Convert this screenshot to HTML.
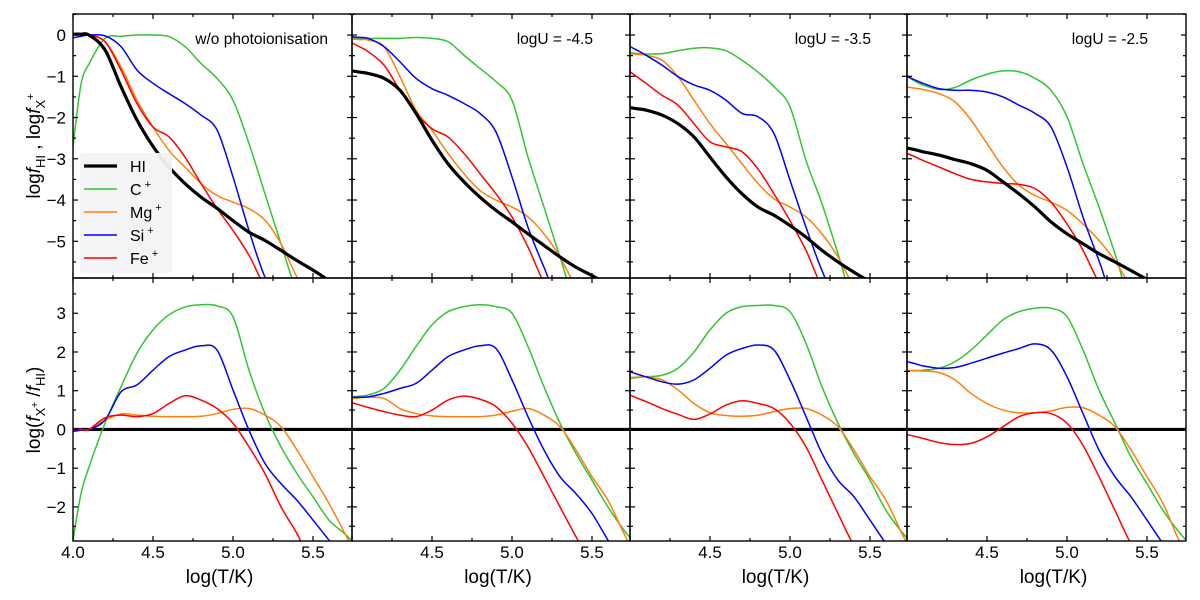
<!DOCTYPE html>
<html><head><meta charset="utf-8"><style>
html,body{margin:0;padding:0;background:#fff;width:1200px;height:600px;overflow:hidden}
svg{display:block;font-family:"Liberation Sans",Arial,sans-serif;overflow:hidden}
</style></head><body>
<svg id="chart" width="1200" height="600" viewBox="0 0 1200 600" xmlns="http://www.w3.org/2000/svg"></svg>
<script>
// ---- data ----
const temps = [4.0,4.05,4.1,4.2,4.3,4.4,4.5,4.6,4.7,4.8,4.9,5.0,5.1,5.2,5.3,5.4,5.5,5.6,5.7,5.8];
const panelTitles = ["w/o photoionisation","logU = -4.5","logU = -3.5","logU = -2.5"];
const speciesNames = ["HI","C","Mg","Si","Fe"];
const xTicks = [4.0,4.5,5.0,5.5];
const xTickLabels = ["4.0","4.5","5.0","5.5"];
const topYTicks = [0,-1,-2,-3,-4,-5];
const botYTicks = [3,2,1,0,-1,-2];

// top row: log f
const topHI = [
 [0.02,0.02,0,-0.36,-1.25,-2.06,-2.7,-3.2,-3.6,-3.93,-4.2,-4.5,-4.78,-4.98,-5.22,-5.47,-5.7,-5.95,-6.2,-6.4],
 [-0.87,-0.9,-0.93,-1.05,-1.34,-1.9,-2.55,-3.12,-3.56,-3.93,-4.25,-4.53,-4.82,-5.1,-5.38,-5.63,-5.83,-6.05,-6.25,-6.45],
 [-1.76,-1.79,-1.82,-1.94,-2.15,-2.47,-2.96,-3.44,-3.85,-4.17,-4.37,-4.62,-4.9,-5.22,-5.5,-5.75,-5.98,-6.2,-6.4,-6.6],
 [-2.74,-2.78,-2.83,-2.91,-3.02,-3.12,-3.28,-3.56,-3.85,-4.17,-4.53,-4.82,-5.06,-5.3,-5.5,-5.71,-5.92,-6.1,-6.3,-6.5]];
const topC = [
 [-2.7,-1.2,-0.7,-0.08,-0.03,0,0,-0.04,-0.28,-0.69,-1.05,-1.58,-2.63,-3.85,-5.06,-6.2,-7.3,-8.4,-9.5,-10.6],
 [-0.08,-0.08,-0.08,-0.08,-0.08,-0.06,-0.08,-0.16,-0.49,-0.81,-1.13,-1.58,-2.96,-4.17,-5.38,-6.6,-7.8,-9,-10,-11],
 [-0.43,-0.45,-0.46,-0.45,-0.38,-0.32,-0.31,-0.38,-0.61,-0.9,-1.25,-1.74,-3.04,-4.09,-5.3,-6.5,-7.7,-9,-10,-11],
 [-1.0,-1.12,-1.21,-1.32,-1.27,-1.09,-0.95,-0.87,-0.89,-1.05,-1.34,-1.98,-3.12,-4.17,-5.3,-6.5,-7.7,-9,-10,-11]];
const topMg = [
 [0.02,0.02,0,-0.16,-0.77,-1.58,-2.23,-2.8,-3.2,-3.6,-3.89,-4.05,-4.21,-4.49,-5.06,-5.87,-6.8,-7.8,-8.8,-9.8],
 [-0.1,-0.11,-0.12,-0.28,-1.01,-1.82,-2.31,-2.87,-3.36,-3.77,-4.0,-4.17,-4.41,-4.82,-5.38,-6.1,-7,-8,-9,-10],
 [-0.45,-0.47,-0.49,-0.61,-1.01,-1.58,-2.15,-2.63,-3.12,-3.6,-3.97,-4.17,-4.41,-4.82,-5.38,-6.1,-7,-8,-9,-10],
 [-1.26,-1.29,-1.32,-1.42,-1.62,-2.06,-2.63,-3.2,-3.64,-3.89,-4.05,-4.25,-4.58,-4.98,-5.47,-6.1,-7,-8,-9,-10]];
const topSi = [
 [-0.07,-0.03,0,-0.02,-0.28,-0.85,-1.17,-1.42,-1.66,-1.94,-2.3,-3.44,-4.74,-5.87,-7,-8,-9,-10,-11,-12],
 [-0.04,-0.06,-0.08,-0.28,-0.65,-1.05,-1.3,-1.46,-1.66,-1.9,-2.35,-3.44,-4.66,-5.63,-6.7,-7.8,-9,-10,-11,-12],
 [-0.28,-0.38,-0.49,-0.73,-1.01,-1.21,-1.34,-1.58,-1.9,-1.98,-2.39,-3.52,-4.66,-5.71,-6.8,-7.9,-9,-10,-11,-12],
 [-1.0,-1.09,-1.17,-1.3,-1.34,-1.34,-1.38,-1.5,-1.7,-1.9,-2.23,-3.2,-4.41,-5.47,-6.6,-7.7,-9,-10,-11,-12]];
const topFe = [
 [0.02,0.02,0,-0.16,-0.85,-1.66,-2.23,-2.47,-2.96,-3.6,-4.2,-4.74,-5.34,-6.1,-7,-8,-9,-10,-11,-12],
 [-0.19,-0.29,-0.4,-0.73,-1.34,-1.9,-2.27,-2.47,-2.87,-3.36,-3.85,-4.41,-5.14,-6.0,-7,-8,-9,-10,-11,-12],
 [-0.89,-1.03,-1.17,-1.46,-1.7,-2.15,-2.59,-2.71,-2.83,-3.25,-3.85,-4.5,-5.22,-6.1,-7,-8,-9,-10,-11,-12],
 [-2.87,-2.95,-3.04,-3.2,-3.36,-3.5,-3.56,-3.6,-3.62,-3.72,-4.05,-4.58,-5.22,-6.0,-7,-8,-9,-10,-11,-12]];

// bottom row: log(fX+/fHI)
const botHI = [
 [0,0,0,0,0,0,0,0,0,0,0,0,0,0,0,0,0,0,0,0],
 [0,0,0,0,0,0,0,0,0,0,0,0,0,0,0,0,0,0,0,0],
 [0,0,0,0,0,0,0,0,0,0,0,0,0,0,0,0,0,0,0,0],
 [0,0,0,0,0,0,0,0,0,0,0,0,0,0,0,0,0,0,0,0]];
const botC = [
 [-2.86,-1.66,-0.97,0.16,1.1,1.97,2.57,2.96,3.16,3.22,3.19,2.91,1.53,0.41,-0.45,-1.14,-1.74,-2.34,-2.7,-3.1],
 [0.84,0.86,0.89,1.06,1.53,2.14,2.7,3.04,3.17,3.22,3.17,3.0,2.14,1.1,0.16,-0.62,-1.31,-2.0,-2.6,-3.1],
 [1.32,1.34,1.36,1.4,1.58,2.0,2.57,3.0,3.17,3.2,3.2,3.04,2.22,1.1,0.16,-0.62,-1.31,-2.09,-2.65,-3.1],
 [1.52,1.52,1.53,1.58,1.75,2.05,2.44,2.83,3.04,3.13,3.13,2.91,2.05,1.02,0.16,-0.71,-1.4,-2.09,-2.65,-3.1]];
const botMg = [
 [0,0,0,0.24,0.4,0.37,0.34,0.33,0.33,0.34,0.41,0.52,0.54,0.37,0.07,-0.53,-1.22,-1.91,-2.69,-3.5],
 [0.8,0.82,0.83,0.8,0.54,0.41,0.35,0.33,0.33,0.33,0.37,0.47,0.54,0.37,0.07,-0.53,-1.22,-1.83,-2.69,-3.5],
 [1.34,1.35,1.36,1.28,1.02,0.67,0.43,0.36,0.34,0.37,0.46,0.54,0.54,0.37,0.07,-0.53,-1.22,-1.83,-2.69,-3.5],
 [1.52,1.52,1.51,1.47,1.28,0.93,0.67,0.5,0.43,0.43,0.48,0.57,0.56,0.37,0.07,-0.53,-1.22,-1.91,-2.86,-3.6]];
const botSi = [
 [-0.05,-0.02,0,0.24,0.97,1.15,1.53,1.88,2.05,2.16,2.05,1.02,-0.02,-0.88,-1.4,-1.83,-2.34,-2.86,-3.4,-4],
 [0.83,0.83,0.84,0.93,1.06,1.19,1.53,1.88,2.05,2.16,2.09,1.28,0.33,-0.53,-1.22,-1.66,-2.17,-2.86,-3.5,-4.1],
 [1.49,1.42,1.36,1.23,1.17,1.28,1.58,1.92,2.09,2.18,2.05,1.28,0.33,-0.62,-1.31,-1.74,-2.34,-2.95,-3.5,-4.1],
 [1.75,1.7,1.64,1.58,1.6,1.71,1.84,1.97,2.09,2.21,2.05,1.36,0.41,-0.53,-1.22,-1.74,-2.34,-2.95,-3.5,-4.1]];
const botFe = [
 [0,0,0,0.3,0.37,0.33,0.41,0.67,0.87,0.76,0.54,0.16,-0.45,-1.14,-2.0,-2.69,-3.5,-4.3,-5,-6],
 [0.69,0.63,0.57,0.46,0.37,0.33,0.5,0.76,0.86,0.78,0.59,0.16,-0.45,-1.22,-2.0,-2.77,-3.5,-4.3,-5,-6],
 [0.89,0.8,0.72,0.54,0.39,0.26,0.4,0.63,0.74,0.67,0.54,0.16,-0.45,-1.31,-2.17,-3.0,-3.8,-4.5,-5.2,-6],
 [-0.13,-0.18,-0.23,-0.34,-0.39,-0.36,-0.19,0.07,0.33,0.43,0.41,0.16,-0.41,-1.22,-2.09,-2.95,-3.8,-4.5,-5.2,-6]];

// ---- layout ----
const NS = "http://www.w3.org/2000/svg";
const svg = document.getElementById("chart");
const panelLeft = [73,352,630,907];
const panelRight = [352,630,907,1186];
const pxPerUnit = 160;
const X0 = 4.0;
const rowTop = {top:{y0:14,y1:278,vmax:0.51,vmin:-5.89}, bot:{y0:278,y1:541,vmax:3.91,vmin:-2.88}};
const colors = {HI:"#000000",C:"#33c433",Mg:"#ff7f0e",Si:"#0000ff",Fe:"#ff0000"};
const widths = {HI:3.2,C:1.5,Mg:1.5,Si:1.5,Fe:1.5};
function el(tag, attrs, parent){const e=document.createElementNS(NS,tag);for(const k in attrs)e.setAttribute(k,attrs[k]);(parent||svg).appendChild(e);return e;}
function xScale(p,t){return Math.min(panelLeft[p]+(t-X0)*pxPerUnit, panelRight[p]+15);}
function yScale(r,v){const R=rowTop[r];const y=R.y0+(R.vmax-v)/(R.vmax-R.vmin)*(R.y1-R.y0);return Math.min(y,R.y1+25);}
function smoothPath(pts){
  let d="M"+pts[0][0].toFixed(2)+","+pts[0][1].toFixed(2);
  for(let i=0;i<pts.length-1;i++){
    const p0=pts[Math.max(0,i-1)],p1=pts[i],p2=pts[i+1],p3=pts[Math.min(pts.length-1,i+2)];
    const c1=[p1[0]+(p2[0]-p0[0])/6,p1[1]+(p2[1]-p0[1])/6];
    const c2=[p2[0]-(p3[0]-p1[0])/6,p2[1]-(p3[1]-p1[1])/6];
    d+=" C"+c1[0].toFixed(2)+","+c1[1].toFixed(2)+" "+c2[0].toFixed(2)+","+c2[1].toFixed(2)+" "+p2[0].toFixed(2)+","+p2[1].toFixed(2);
  }
  return d;
}
const defs = el("defs",{});
const rows = [["top",{HI:topHI,C:topC,Mg:topMg,Si:topSi,Fe:topFe}],["bot",{HI:botHI,C:botC,Mg:botMg,Si:botSi,Fe:botFe}]];
rows.forEach(([r,data])=>{
  const R=rowTop[r];
  for(let p=0;p<4;p++){
    const W=panelRight[p]-panelLeft[p];
    const cp=el("clipPath",{id:"clip-"+r+p},defs);
    el("rect",{x:panelLeft[p],y:R.y0,width:W,height:R.y1-R.y0},cp);
    const g=el("g",{"clip-path":"url(#clip-"+r+p+")"});
    
    
    const order = r==="bot" ? ["HI","C","Mg","Si","Fe"] : ["C","Mg","Si","Fe","HI"];
    order.forEach(s=>{
      const vals=data[s][p];
      const pts=[];
      temps.forEach((t,i)=>{
        // drop points far beyond the panel edge (they are clipped anyway)
        if(panelLeft[p]+(t-X0)*pxPerUnit > panelRight[p]+30) return;
        pts.push([xScale(p,t),yScale(r,vals[i])]);
      });
      const path=el("path",{d:smoothPath(pts),fill:"none",stroke:colors[s],"stroke-width":widths[s],"stroke-linejoin":"round"},g);
      
      
    });
    const fr=el("rect",{x:panelLeft[p],y:R.y0,width:W,height:R.y1-R.y0,fill:"none",stroke:"#000","stroke-width":1.4});
    
    
    for(let k=0;k<=7;k++){
      const t=4.0+k*0.25;
      const x=panelLeft[p]+(t-X0)*pxPerUnit; const major=(k%2===0);
      const L=major?5:3;
      if(x>panelRight[p]-1) continue;
      el("line",{x1:x,y1:R.y1,x2:x,y2:R.y1-L,stroke:"#000","stroke-width":1.2});
      el("line",{x1:x,y1:R.y0,x2:x,y2:R.y0+L,stroke:"#000","stroke-width":1.2});
    }
    const ylo=Math.ceil(R.vmin*2);
    for(let k=ylo;k/2<=R.vmax;k++){
      const v=k/2;
      const y=yScale(r,v); const major=(k%2===0); const L=major?5:3;
      el("line",{x1:panelLeft[p],y1:y,x2:panelLeft[p]+L,y2:y,stroke:"#000","stroke-width":1.2});
      el("line",{x1:panelRight[p],y1:y,x2:panelRight[p]-L,y2:y,stroke:"#000","stroke-width":1.2});
    }
  }
});
topYTicks.forEach(v=>{
  const t=el("text",{x:66,y:yScale("top",v)+6,"text-anchor":"end","font-size":17});
  t.textContent=v<0?"\u2212"+Math.abs(v):String(v);
  
  
});
botYTicks.forEach(v=>{
  const t=el("text",{x:66,y:yScale("bot",v)+6,"text-anchor":"end","font-size":17});
  t.textContent=v<0?"\u2212"+Math.abs(v):String(v);
  
  
});
for(let p=0;p<4;p++){
  xTicks.forEach((v,i)=>{
    if(p>0 && i===0) return;
    const t=el("text",{x:xScale(p,v),y:558,"text-anchor":"middle","font-size":17});
    t.textContent=xTickLabels[i];
    
    
  });
  const xt=el("text",{x:(panelLeft[p]+panelRight[p])/2+7,y:583,"text-anchor":"middle","font-size":19});
  xt.textContent="log(T/K)";
  
  
}
const titleEnds=[328,593,871,1148];
panelTitles.forEach((s,p)=>{
  const t=el("text",{x:titleEnds[p],y:44,"text-anchor":"end","font-size":15.5});
  t.textContent=s;
  
  
});

// axis titles
const yt=el("text",{transform:"translate(40,146) rotate(-90)","text-anchor":"middle","font-size":19});
yt.innerHTML='log<tspan font-style="italic">f</tspan><tspan font-size="13" dy="5">HI</tspan><tspan dy="-5"> , log</tspan><tspan font-style="italic">f</tspan><tspan font-size="13" dy="5">X</tspan><tspan font-size="11" dy="-11">+</tspan>';


const yb=el("text",{transform:"translate(40,410) rotate(-90)","text-anchor":"middle","font-size":19});
yb.innerHTML='log(<tspan font-style="italic">f</tspan><tspan font-size="13" dy="5">X</tspan><tspan font-size="10" dy="-7">+</tspan><tspan dy="2"> /</tspan><tspan font-style="italic">f</tspan><tspan font-size="13" dy="5">HI</tspan><tspan dy="-5">)</tspan>';



// legend
const legendLabels=["HI","C","Mg","Si","Fe"];
const legendColors=["#000000","#33c433","#ff7f0e","#0000ff","#ff0000"];
const lg=el("g",{});


el("rect",{x:80,y:153,width:92,height:120,rx:3,fill:"#f3f3f5","fill-opacity":0.95},lg);
legendLabels.forEach((s,i)=>{
  const y=166+i*23;
  const ln=el("line",{x1:84,x2:117,y1:y,y2:y,stroke:legendColors[i],"stroke-width":i===0?3.2:1.5},lg);
  
  
  const t=el("text",{x:130,y:y+6,"font-size":16},lg);
  t.innerHTML = i===0 ? "HI" : s+'<tspan font-size="11" dy="-7"> +</tspan>';
  
  
});
</script>
</body></html>
